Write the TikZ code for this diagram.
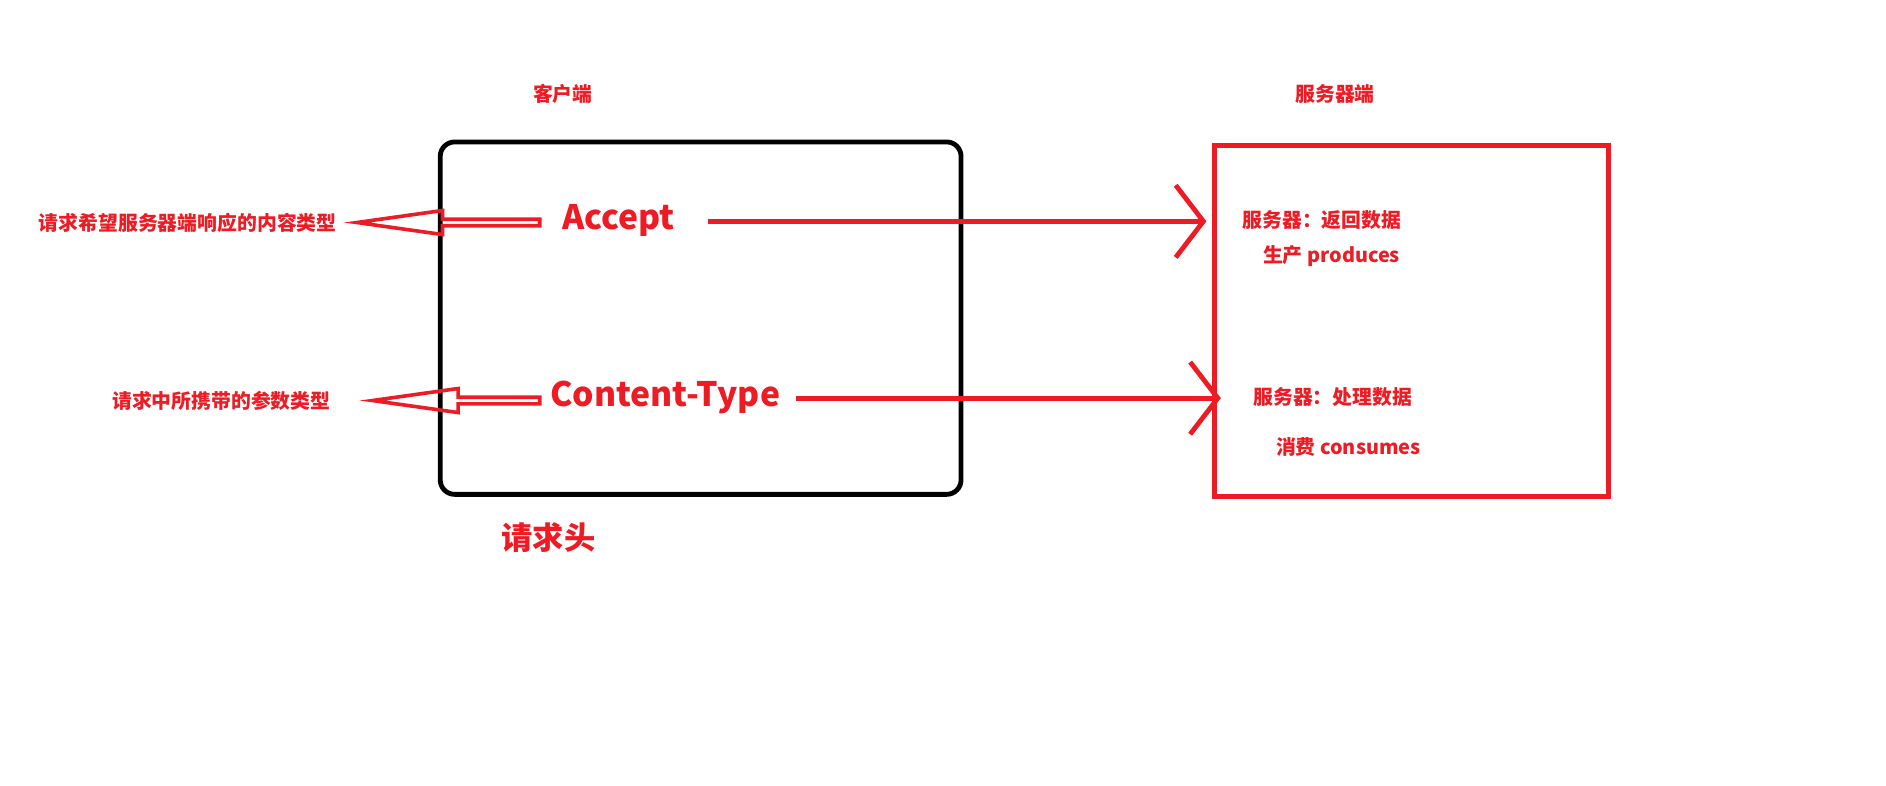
\documentclass[tikz,border=0pt]{standalone}
\usepackage{fontspec}
\setmainfont{Noto Sans CJK SC}
\usepackage{xcolor}
\usepackage{tikz}
\usetikzlibrary{arrows.meta, positioning}
\usetikzlibrary{shapes.arrows}
\definecolor{paintred}{HTML}{ED1C24}

\begin{document}
\begin{tikzpicture}[x=1pt, y=-1pt, every node/.style={text=paintred, inner sep=0pt, font=\bfseries\fontsize{16.5}{18}\selectfont},
    bigtext/.style={font=\bfseries\fontsize{28}{30}\selectfont},
    wire/.style={draw=paintred, line width=4pt, -{Straight Barb[length=23pt, width=60pt, line width=4pt]}},
    hollow/.style={single arrow, draw=paintred, line width=3pt, shape border rotate=180, minimum width=20pt, single arrow head extend=4pt, single arrow tip angle=16, anchor=tip}]
        \useasboundingbox (0,0) rectangle (1568,653);
        \node (client) at (468,78) {客户端};
        \node (server) at (1110,78) {服务器端};

        \node[draw=black, line width=4pt, rounded corners=12pt, minimum width=433pt, minimum height=293pt] (headers) at (582.5,264.5) {};
        \node[draw=paintred, line width=4pt, minimum width=327pt, minimum height=292pt] (serverbox) at (1173.5,267) {};
        \node[font=\bfseries\fontsize{26}{28}\selectfont] (headerslabel) at (456,447) {请求头};

        \node[bigtext] (accept) at (514,183) {Accept};
        \node[bigtext] (ctype) at (553,330) {Content-Type};

        \node[hollow, minimum height=152pt] (acceptback) at (286,185) {};
        \node[left=6pt of acceptback.tip] (acceptnote) {请求希望服务器端响应的内容类型};
        \node[hollow, minimum height=139pt] (ctypeback) at (299,333) {};
        \node[left=24pt of ctypeback.tip] (ctypenote) {请求中所携带的参数类型};

        \node (produce) at (1099,183) {服务器：返回数据};
        \node (producex) at (1107,213) {生产 produces};
        \node (consume) at (1108,330) {服务器：处理数据};
        \node (consumex) at (1121,372) {消费 consumes};

        \coordinate (acceptend) at (1003,184);
        \coordinate (ctypeend) at (1015,331);
        \draw[wire] ([xshift=28pt]accept.east |- acceptend) -- (acceptend);
        \draw[wire] ([xshift=13pt]ctype.east |- ctypeend) -- (ctypeend);
    \end{tikzpicture}
\end{document}
